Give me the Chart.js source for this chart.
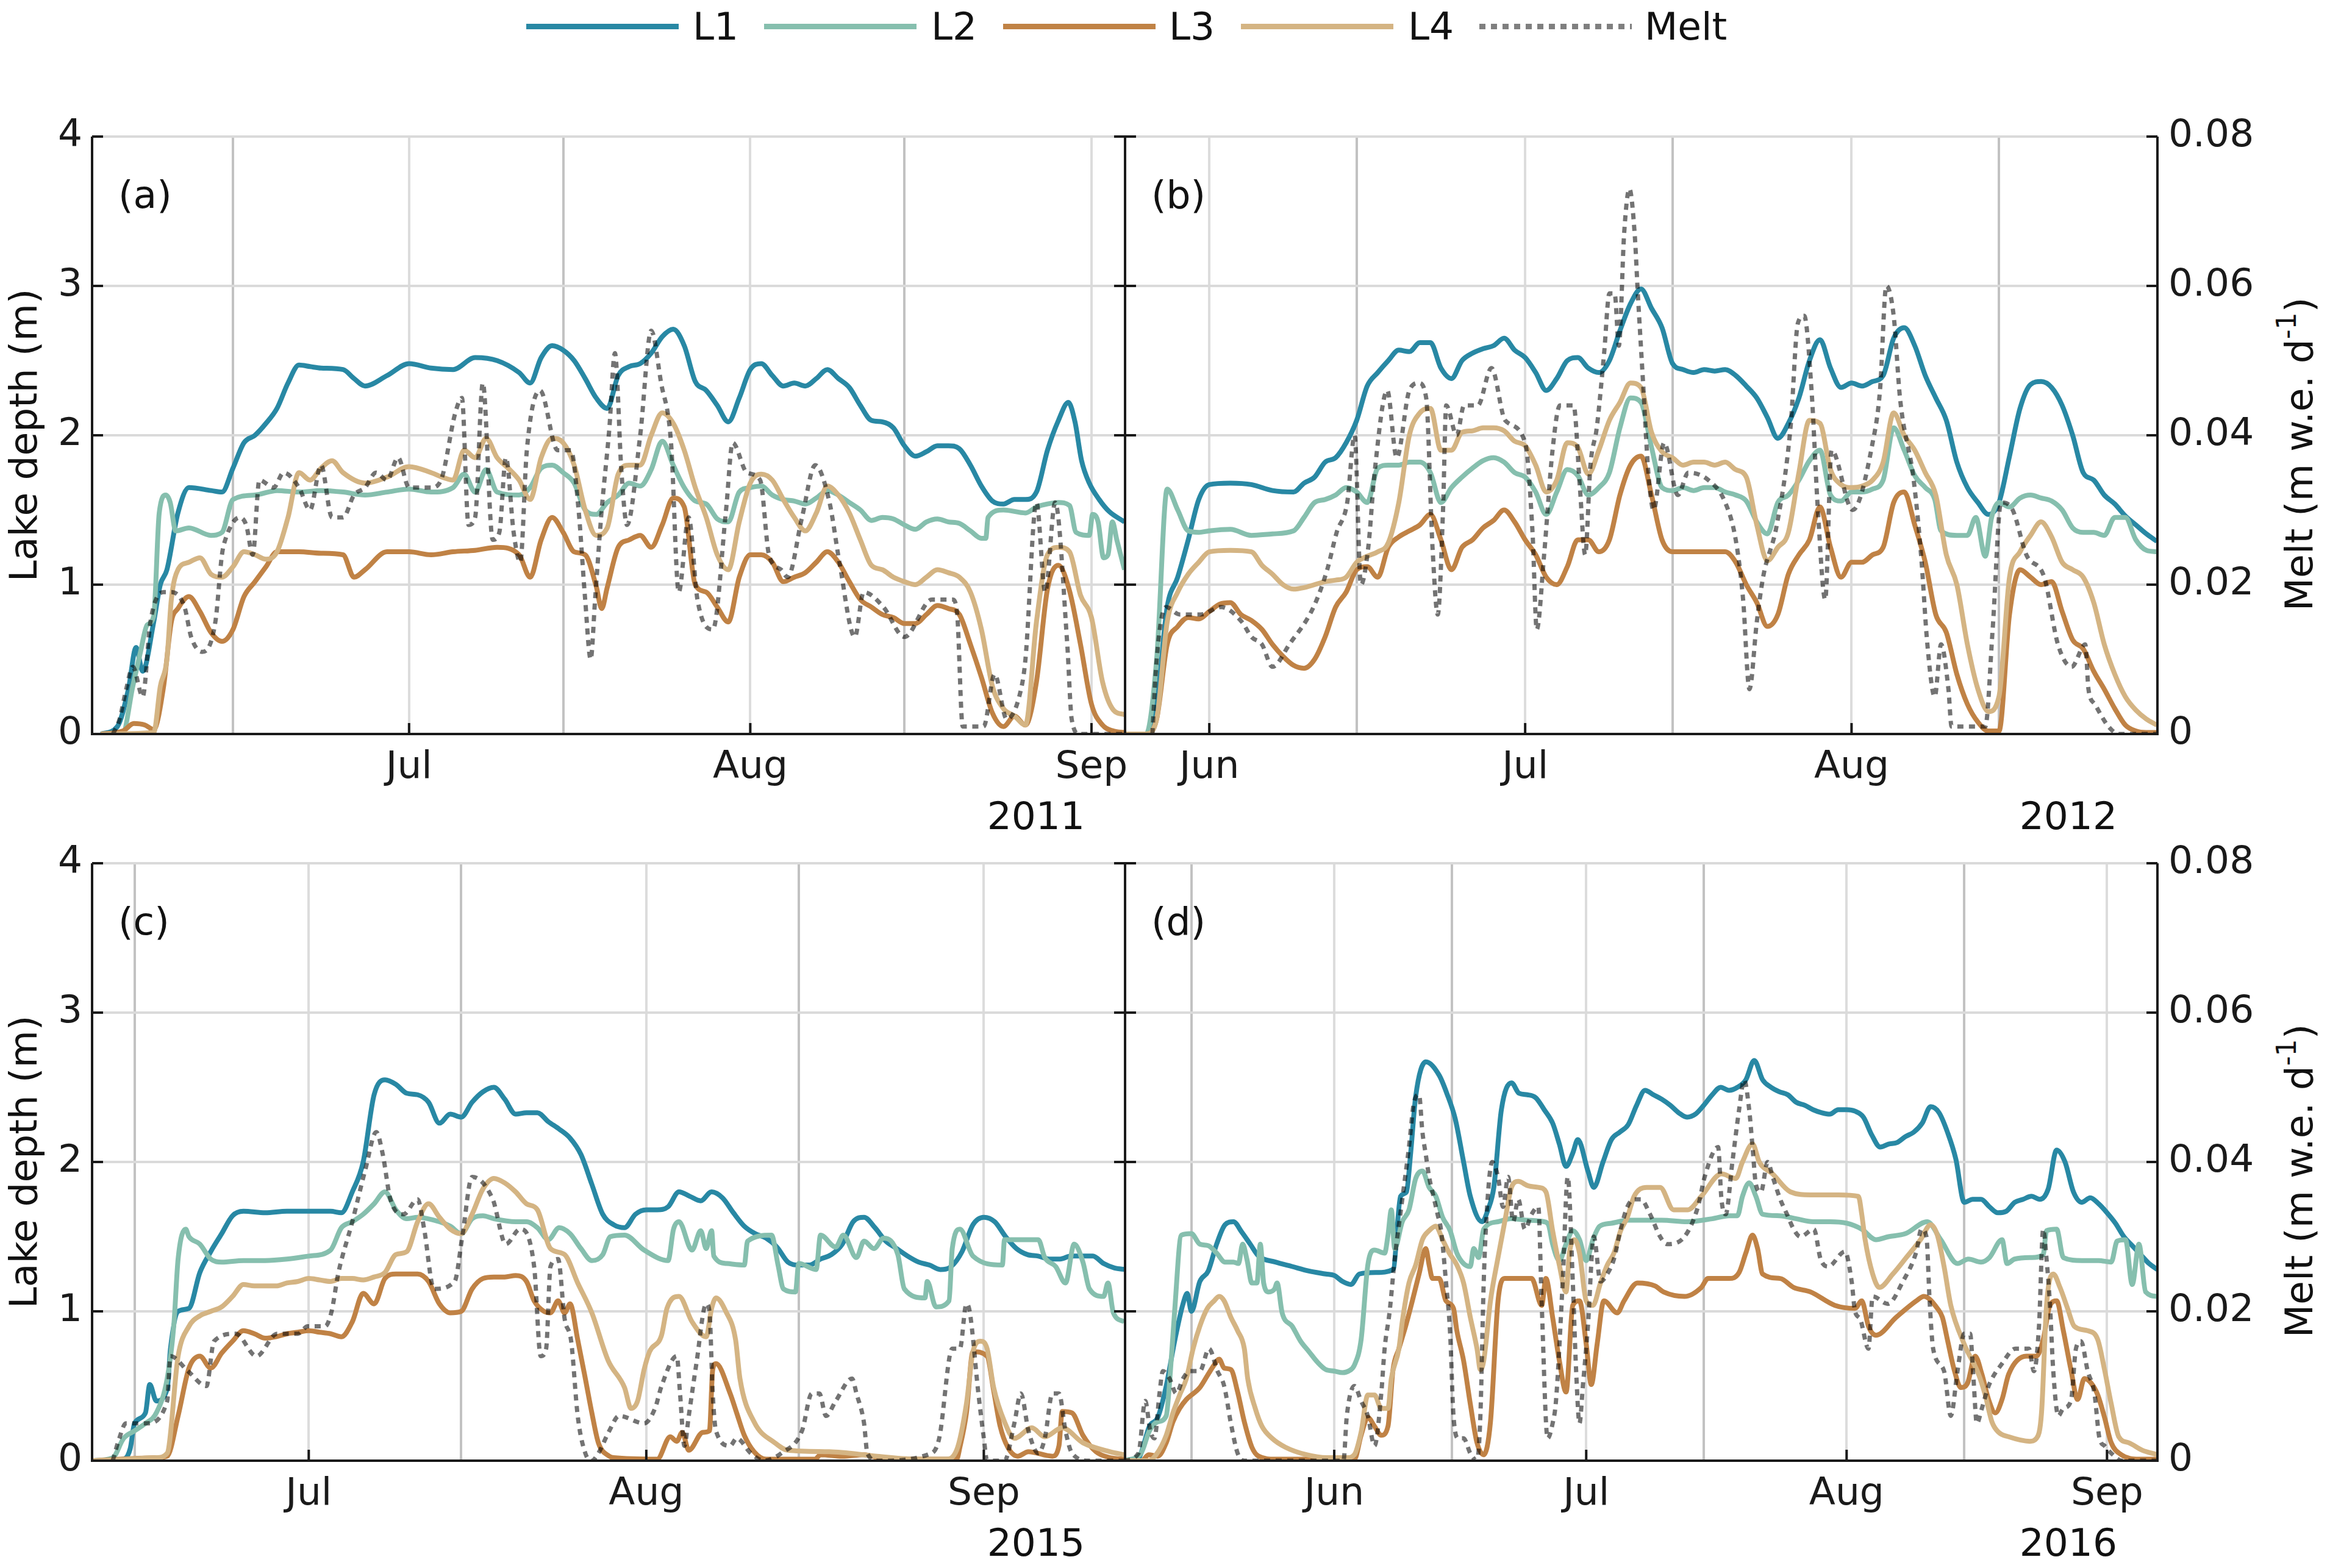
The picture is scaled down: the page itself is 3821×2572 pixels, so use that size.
<!DOCTYPE html>
<html>
<head>
<meta charset="utf-8">
<script src="https://cdn.jsdelivr.net/npm/chart.js@4.4.0/dist/chart.umd.min.js"></script>
<style>
html,body{margin:0;padding:0;background:#ffffff;}
body{width:3821px;height:2572px;position:relative;overflow:hidden;font-family:"DejaVu Sans",sans-serif;color:#111;}
canvas{position:absolute;display:block;}
.legline{position:absolute;top:39px;width:250px;height:9px;}
.legtext{position:absolute;top:12px;font-size:63px;line-height:63px;white-space:nowrap;}
.rtitle{position:absolute;font-size:63px;line-height:1;white-space:nowrap;transform:translate(-50%,-50%) rotate(-90deg);}
.rtitle sup{font-size:0.7em;vertical-align:0.6em;line-height:0;}
</style>
</head>
<body>
<div class="legline" style="left:863px;background:#2888a4"></div><div class="legtext" style="left:1136px">L1</div>
<div class="legline" style="left:1253px;background:#86bfae"></div><div class="legtext" style="left:1527px">L2</div>
<div class="legline" style="left:1645px;background:#c08245"></div><div class="legtext" style="left:1917px">L3</div>
<div class="legline" style="left:2035px;background:#d4b483"></div><div class="legtext" style="left:2309px">L4</div>
<div class="legline" style="left:2426px;background:repeating-linear-gradient(90deg,rgba(0,0,0,0.5) 0 10px,transparent 10px 19px)"></div><div class="legtext" style="left:2697px">Melt</div>
<div class="rtitle" style="left:3770px;top:745px">Melt (m w.e. d<sup>-1</sup>)</div>
<div class="rtitle" style="left:3770px;top:1937px">Melt (m w.e. d<sup>-1</sup>)</div>
<script>
// ---------------- DATA (day of year, value) ----------------
// Panel (a) 2011
const a_monthDays = [182, 213, 244];
const a_monthLabels = ['Jul', 'Aug', 'Sep'];
const a_midDays = [166, 196, 227];
const a_L1 = [[154,0],[155.5,0.05],[156.5,0.3],[157.2,0.58],[157.8,0.42],[158.8,0.75],[159.4,1.0],[160,1.1],[161,1.48],[162,1.65],[164,1.63],[165,1.62],[166,1.78],[167,1.95],[168,2.0],[169,2.08],[170,2.18],[171,2.35],[172,2.47],[173,2.46],[174,2.45],[176,2.44],[177,2.38],[178,2.33],[180,2.4],[182,2.48],[184,2.45],[186,2.44],[188,2.52],[190,2.5],[192,2.42],[193,2.35],[194,2.52],[195,2.6],[196,2.57],[197,2.5],[198,2.38],[199,2.25],[200,2.18],[201,2.4],[202,2.46],[203,2.48],[204,2.55],[205,2.66],[206,2.71],[207,2.6],[208,2.36],[209,2.3],[210,2.2],[211,2.09],[212,2.25],[213,2.44],[214,2.48],[215,2.4],[216,2.33],[217,2.35],[218,2.33],[219,2.38],[220,2.44],[221,2.38],[222,2.32],[223,2.2],[224,2.1],[225,2.09],[226,2.05],[227,1.93],[228,1.86],[229,1.89],[230,1.93],[231,1.93],[232,1.91],[233,1.8],[234,1.66],[235,1.56],[236,1.54],[237,1.57],[238,1.57],[239,1.62],[240,1.9],[241,2.1],[241.9,2.22],[242.5,2.09],[243.1,1.83],[243.8,1.68],[244.7,1.57],[245.6,1.49],[247,1.42]];
const a_L2 = [[154,0],[156,0.01],[156.9,0.32],[157.6,0.55],[158.2,0.73],[158.8,0.79],[159.3,1.48],[159.9,1.6],[160.3,1.55],[160.8,1.36],[162,1.38],[164,1.33],[165,1.35],[166,1.57],[168,1.6],[170,1.63],[172,1.62],[174,1.63],[176,1.62],[178,1.6],[180,1.62],[182,1.64],[184,1.62],[186,1.65],[187,1.74],[188,1.62],[189,1.77],[190,1.62],[192,1.6],[193,1.65],[194,1.78],[195,1.8],[196,1.75],[197,1.68],[198,1.5],[199,1.47],[200,1.55],[201,1.6],[202,1.68],[203,1.66],[204,1.77],[205,1.96],[206,1.8],[207,1.65],[208,1.56],[209,1.54],[210,1.44],[211,1.42],[212,1.62],[213,1.65],[214,1.66],[215,1.6],[216,1.57],[217,1.56],[218,1.54],[219,1.58],[220,1.63],[221,1.6],[222,1.55],[223,1.5],[224,1.43],[225,1.45],[226,1.44],[227,1.4],[228,1.37],[229,1.42],[230,1.44],[231,1.42],[232,1.41],[233,1.36],[234,1.31],[234.4,1.31],[234.6,1.45],[236,1.5],[238,1.48],[239,1.52],[240,1.54],[241,1.55],[242,1.53],[242.6,1.35],[243.8,1.33],[244.1,1.47],[244.6,1.42],[245.1,1.18],[245.5,1.2],[245.9,1.42],[246.3,1.3],[247,1.1]];
const a_L3 = [[154,0],[156,0.02],[157,0.07],[158,0.06],[158.8,0.03],[159.7,0.32],[160.4,0.75],[161,0.84],[162,0.92],[163,0.82],[164,0.68],[165,0.62],[166,0.7],[167,0.92],[168,1.02],[169,1.12],[170,1.22],[172,1.22],[174,1.21],[176,1.2],[177,1.05],[178,1.1],[180,1.22],[182,1.22],[184,1.2],[186,1.22],[188,1.23],[190,1.25],[192,1.2],[193,1.05],[194,1.3],[195,1.45],[196,1.35],[197,1.22],[198,1.2],[199,0.99],[199.5,0.84],[200,0.98],[201,1.25],[202,1.3],[203,1.33],[204,1.25],[205,1.4],[206,1.58],[207,1.52],[208,1.0],[209,0.95],[210,0.85],[211,0.75],[212,1.05],[213,1.2],[214,1.2],[215,1.15],[216,1.02],[217,1.05],[218,1.08],[219,1.15],[220,1.22],[221,1.15],[222,1.02],[223,0.9],[224,0.85],[225,0.8],[226,0.78],[227,0.74],[228,0.74],[229,0.8],[230,0.86],[231,0.84],[232,0.8],[233,0.6],[234,0.38],[235,0.14],[236,0.05],[237,0.12],[238,0.06],[239,0.35],[240,0.97],[241,1.13],[242,0.96],[243,0.6],[244,0.2],[245,0.06],[246,0.02],[247,0.01]];
const a_L4 = [[154,0],[158.8,0.01],[159.4,0.32],[160,0.5],[160.4,0.9],[161,1.1],[162,1.15],[163,1.18],[164,1.07],[165,1.05],[166,1.12],[167,1.22],[168,1.2],[169,1.17],[170,1.22],[171,1.45],[172,1.75],[173,1.7],[174,1.78],[175,1.83],[176,1.75],[178,1.68],[180,1.72],[182,1.79],[184,1.75],[185,1.72],[186,1.7],[187,1.9],[188,1.85],[189,1.98],[190,1.85],[191,1.78],[192,1.7],[193,1.57],[194,1.85],[195,1.98],[196,1.95],[197,1.8],[198,1.5],[199,1.33],[200,1.38],[201,1.74],[202,1.8],[203,1.8],[204,2.0],[205,2.15],[206,2.08],[207,1.9],[208,1.65],[209,1.45],[210,1.2],[211,1.1],[212,1.42],[213,1.68],[214,1.74],[215,1.7],[216,1.57],[217,1.45],[218,1.36],[219,1.48],[220,1.66],[221,1.6],[222,1.48],[223,1.3],[224,1.13],[225,1.1],[226,1.05],[227,1.02],[228,1.0],[229,1.05],[230,1.1],[231,1.08],[232,1.05],[233,0.95],[234,0.7],[235,0.32],[236,0.17],[237,0.12],[238,0.06],[239,0.75],[240,1.2],[241,1.25],[242,1.22],[243,0.93],[244,0.78],[245,0.35],[246,0.16],[247,0.13]];
const a_melt = [[155.1,0],[155.7,0.002],[156.3,0.006],[156.9,0.009],[157.8,0.005],[158.5,0.015],[159.7,0.019],[160.4,0.019],[161.6,0.017],[162.2,0.013],[163.2,0.011],[164.4,0.015],[165,0.024],[165.3,0.026],[166.6,0.029],[167.2,0.028],[167.8,0.024],[168.4,0.034],[169.7,0.033],[170.6,0.035],[172,0.033],[173,0.030],[174,0.036],[175,0.029],[176,0.029],[177,0.032],[178,0.033],[179,0.035],[180,0.034],[181,0.037],[182,0.033],[184,0.033],[184.9,0.034],[186.2,0.043],[186.8,0.045],[187.4,0.028],[188,0.029],[188.7,0.047],[189.6,0.026],[190.2,0.027],[190.8,0.037],[191.5,0.027],[192.1,0.023],[192.7,0.038],[193.9,0.046],[195.5,0.038],[196.7,0.038],[197.4,0.030],[198,0.018],[198.5,0.010],[198.9,0.018],[199.5,0.030],[200.2,0.041],[200.7,0.051],[201.3,0.035],[201.8,0.028],[203,0.040],[204,0.054],[204.9,0.047],[205.8,0.039],[206.5,0.019],[207.4,0.029],[208.2,0.018],[209.6,0.014],[210.8,0.030],[211.4,0.039],[212.7,0.035],[213.9,0.034],[214.7,0.024],[215.8,0.022],[216.4,0.021],[217.7,0.029],[218.9,0.036],[220.2,0.031],[221.1,0.023],[222.5,0.013],[223.3,0.019],[225.1,0.017],[227,0.013],[229.5,0.018],[231.4,0.018],[231.8,0.016],[232.3,0.001],[234.2,0.001],[235.2,0.008],[236.3,0.002],[237.6,0.006],[238,0.010],[239,0.031],[239.8,0.019],[240.7,0.031],[241.8,0.012],[242.2,0.002],[242.9,0],[247,0]];

// Panel (b) 2012
const b_monthDays = [153, 183, 214];
const b_monthLabels = ['Jun', 'Jul', 'Aug'];
const b_midDays = [167, 197, 228];
const b_L1 = [[145,0],[147,0],[148,0.2],[149,0.85],[150,1.05],[151,1.3],[152,1.57],[153,1.67],[155,1.68],[157,1.67],[159,1.63],[161,1.62],[162,1.68],[163,1.72],[164,1.82],[165,1.85],[166,1.95],[167,2.1],[168,2.33],[169,2.42],[170,2.5],[171,2.57],[172,2.56],[173,2.62],[174,2.62],[175,2.45],[176,2.38],[177,2.5],[178,2.55],[179,2.58],[180,2.6],[181,2.65],[182,2.57],[183,2.52],[184,2.42],[185,2.3],[186,2.38],[187,2.5],[188,2.52],[189,2.45],[190,2.42],[191,2.5],[192,2.7],[193,2.88],[194,2.98],[195,2.85],[196,2.72],[197,2.48],[198,2.44],[199,2.42],[200,2.44],[201,2.43],[202,2.44],[203,2.4],[204,2.33],[205,2.25],[206,2.12],[207,1.98],[208,2.08],[209,2.25],[210,2.5],[211,2.64],[212,2.45],[213,2.32],[214,2.35],[215,2.33],[216,2.36],[217,2.4],[218,2.65],[219,2.72],[220,2.6],[221,2.4],[222,2.25],[223,2.1],[224,1.82],[225,1.65],[226,1.55],[227,1.47],[228,1.55],[229,1.86],[230,2.18],[231,2.34],[232,2.36],[233,2.32],[234,2.2],[235,2.0],[236,1.75],[237,1.7],[238,1.6],[239,1.54],[240,1.46],[241,1.4],[242,1.34],[243,1.29]];
const b_L2 = [[145,0],[147,0],[148,0.5],[149,1.64],[150,1.5],[151,1.36],[152,1.35],[153,1.36],[155,1.37],[157,1.33],[159,1.34],[161,1.36],[162,1.45],[163,1.55],[164,1.57],[165,1.6],[166,1.65],[167,1.62],[168,1.55],[169,1.78],[170,1.8],[171,1.8],[172,1.82],[173,1.82],[174,1.75],[175,1.55],[176,1.65],[177,1.72],[178,1.78],[179,1.83],[180,1.85],[181,1.82],[182,1.75],[183,1.72],[184,1.62],[185,1.47],[186,1.62],[187,1.77],[188,1.73],[189,1.6],[190,1.65],[191,1.75],[192,2.05],[193,2.25],[194,2.22],[195,1.92],[196,1.65],[197,1.63],[198,1.65],[199,1.63],[200,1.65],[201,1.65],[202,1.62],[203,1.6],[204,1.56],[205,1.42],[206,1.34],[207,1.55],[208,1.6],[209,1.7],[210,1.83],[211,1.9],[212,1.6],[213,1.56],[214,1.62],[215,1.62],[216,1.64],[217,1.7],[218,2.05],[219,1.9],[220,1.73],[221,1.65],[221.9,1.57],[222.5,1.36],[224,1.33],[225,1.33],[225.8,1.45],[226.7,1.19],[227.3,1.45],[228,1.55],[229,1.52],[230,1.58],[231,1.6],[232,1.58],[233,1.56],[234,1.5],[235,1.38],[236,1.35],[237,1.35],[238,1.33],[239,1.45],[240,1.45],[241,1.3],[242,1.23],[243,1.22]];
const b_L3 = [[145,0],[147,0],[148,0.1],[149,0.6],[150,0.72],[151,0.78],[152,0.77],[153,0.82],[154,0.87],[155,0.88],[156,0.8],[157,0.76],[158,0.7],[159,0.6],[160,0.52],[161,0.46],[162,0.44],[163,0.5],[164,0.65],[165,0.85],[166,0.95],[167,1.1],[168,1.12],[169,1.05],[170,1.25],[171,1.32],[172,1.36],[173,1.4],[174,1.47],[175,1.3],[176,1.1],[177,1.25],[178,1.3],[179,1.38],[180,1.43],[181,1.5],[182,1.42],[183,1.3],[184,1.2],[185,1.05],[186,1.0],[187,1.12],[188,1.3],[189,1.3],[190,1.22],[191,1.3],[192,1.6],[193,1.8],[194,1.86],[195,1.6],[196,1.3],[197,1.22],[198,1.22],[199,1.22],[200,1.22],[201,1.22],[202,1.22],[203,1.15],[204,1.0],[205,0.88],[206,0.72],[207,0.8],[208,1.07],[209,1.2],[210,1.3],[211,1.52],[212,1.25],[213,1.05],[214,1.15],[215,1.15],[216,1.2],[217,1.25],[218,1.55],[219,1.62],[220,1.4],[221,1.15],[222,0.8],[223,0.68],[224,0.4],[225,0.2],[226,0.08],[227,0.02],[228,0.02],[229,0.8],[230,1.1],[231,1.05],[232,1.0],[233,1.02],[234,0.82],[235,0.63],[236,0.57],[237,0.42],[238,0.3],[239,0.17],[240,0.06],[241,0.02],[242,0.01],[243,0.01]];
const b_L4 = [[145,0],[147,0],[148,0.1],[149,0.75],[150,0.95],[151,1.07],[152,1.15],[153,1.22],[155,1.23],[157,1.22],[158,1.13],[159,1.07],[160,1.0],[161,0.97],[162,0.98],[163,1.0],[164,1.02],[165,1.03],[166,1.05],[167,1.15],[168,1.19],[169,1.22],[170,1.28],[171,1.55],[172,2.0],[173,2.15],[174,2.18],[175,1.9],[176,1.9],[177,2.02],[178,2.03],[179,2.05],[180,2.05],[181,2.03],[182,1.96],[183,1.93],[184,1.8],[185,1.62],[186,1.7],[187,1.95],[188,1.92],[189,1.74],[190,1.9],[191,2.1],[192,2.22],[193,2.35],[194,2.32],[195,2.02],[196,1.89],[197,1.85],[198,1.8],[199,1.82],[200,1.82],[201,1.8],[202,1.82],[203,1.77],[204,1.72],[205,1.4],[206,1.16],[207,1.25],[208,1.35],[209,1.75],[210,2.1],[211,2.08],[212,1.77],[213,1.67],[214,1.65],[215,1.66],[216,1.7],[217,1.82],[218,2.15],[219,2.0],[220,1.9],[221,1.75],[222,1.6],[223,1.2],[224,1.0],[225,0.6],[226,0.3],[227,0.15],[228,0.25],[229,1.05],[230,1.22],[231,1.33],[232,1.42],[233,1.32],[234,1.15],[235,1.1],[236,1.05],[237,0.88],[238,0.6],[239,0.4],[240,0.25],[241,0.16],[242,0.1],[243,0.06]];
const b_melt = [[147.6,0],[147.9,0.008],[148.4,0.015],[148.9,0.017],[150.2,0.016],[152.2,0.016],[154.1,0.017],[156.1,0.015],[157,0.013],[158,0.012],[159,0.009],[160.6,0.012],[162.9,0.017],[164.2,0.022],[165.1,0.027],[166.1,0.031],[166.8,0.040],[167.4,0.020],[168.1,0.025],[168.7,0.035],[169.9,0.046],[170.8,0.037],[172,0.046],[172.9,0.047],[173.6,0.045],[174.2,0.025],[174.7,0.016],[175.2,0.030],[175.5,0.044],[176.5,0.040],[177.2,0.044],[178.5,0.044],[179.8,0.049],[181.1,0.042],[183,0.039],[183.7,0.027],[184.1,0.014],[184.8,0.024],[185.6,0.038],[186.3,0.044],[187.6,0.044],[188.2,0.033],[188.7,0.024],[189.2,0.036],[189.8,0.041],[190.5,0.051],[191,0.059],[191.5,0.059],[191.9,0.052],[192.4,0.067],[192.9,0.073],[193.4,0.067],[193.7,0.059],[194.2,0.047],[194.7,0.035],[195.2,0.030],[196.2,0.039],[197.5,0.032],[198.5,0.035],[200.4,0.034],[202,0.031],[203,0.026],[203.7,0.018],[204.3,0.006],[205,0.015],[205.6,0.021],[206.9,0.028],[208.2,0.041],[208.9,0.055],[209.5,0.056],[210.2,0.046],[210.8,0.030],[211.5,0.018],[212.1,0.038],[214.1,0.030],[216,0.039],[216.7,0.046],[217.3,0.060],[218,0.056],[218.6,0.045],[219.9,0.034],[220.6,0.024],[221.2,0.012],[221.9,0.005],[222.5,0.012],[223.2,0.006],[223.5,0.001],[226.7,0.001],[227.4,0.014],[228.2,0.031],[229.3,0.030],[230.6,0.024],[232.3,0.021],[233.6,0.012],[234.9,0.009],[236.2,0.012],[236.5,0.006],[237.1,0.004],[238.4,0.001],[239.4,0],[243,0]];

// Panel (c) 2015
const c_monthDays = [182, 213, 244];
const c_monthLabels = ['Jul', 'Aug', 'Sep'];
const c_midDays = [166, 196, 227];
const c_L1 = [[162,0],[165,0.01],[165.6,0.08],[166,0.25],[167,0.32],[167.4,0.51],[168,0.4],[169,0.48],[169.3,0.75],[170,1.0],[171,1.02],[172,1.26],[173,1.4],[174,1.52],[175,1.64],[176,1.67],[178,1.66],[180,1.67],[182,1.67],[184,1.67],[185,1.66],[186,1.8],[187,2.0],[188,2.45],[189,2.55],[190,2.52],[191,2.46],[192,2.45],[193,2.4],[194,2.26],[195,2.32],[196,2.3],[197,2.4],[198,2.47],[199,2.5],[200,2.42],[201,2.32],[202,2.33],[203,2.33],[204,2.27],[205,2.22],[206,2.16],[207,2.05],[208,1.85],[209,1.65],[210,1.58],[211,1.56],[212,1.65],[213,1.68],[214,1.68],[215,1.7],[216,1.8],[217,1.77],[218,1.74],[219,1.8],[220,1.76],[221,1.66],[222,1.57],[223,1.52],[224,1.49],[225,1.43],[226,1.33],[227,1.31],[228,1.31],[229,1.35],[230,1.38],[231,1.45],[232,1.6],[233,1.63],[234,1.56],[235,1.47],[236,1.42],[237,1.37],[238,1.33],[239,1.31],[240,1.28],[241,1.3],[242,1.4],[243,1.58],[244,1.63],[245,1.6],[246,1.5],[247,1.42],[248,1.38],[249,1.37],[250,1.35],[251,1.35],[252,1.37],[253,1.37],[254,1.37],[255,1.32],[256,1.29],[257,1.28]];
const c_L2 = [[162,0],[164,0.02],[165,0.15],[166,0.2],[167,0.25],[168,0.32],[169,0.55],[169.6,0.9],[170,1.35],[170.7,1.55],[171,1.5],[172,1.45],[173,1.35],[174,1.33],[176,1.34],[178,1.34],[180,1.35],[182,1.37],[184,1.41],[185,1.56],[186,1.6],[187,1.65],[188,1.72],[189,1.8],[190,1.68],[191,1.62],[192,1.63],[194,1.6],[195,1.57],[196,1.52],[197,1.62],[198,1.64],[199,1.62],[201,1.6],[202,1.6],[203,1.56],[204,1.48],[205,1.56],[206,1.52],[207,1.42],[208,1.34],[209,1.38],[209.7,1.5],[211,1.51],[212.8,1.41],[215,1.34],[215.5,1.55],[216,1.6],[217.2,1.41],[218,1.54],[218.5,1.42],[219,1.54],[219.2,1.37],[220.4,1.32],[222,1.31],[222.3,1.47],[224.5,1.51],[225.1,1.31],[225.6,1.15],[226.7,1.13],[227,1.32],[228.6,1.28],[229,1.51],[230.4,1.43],[231.1,1.51],[232.3,1.36],[233,1.47],[233.9,1.42],[234.8,1.49],[236.1,1.38],[236.7,1.15],[238.6,1.09],[238.8,1.2],[239.6,1.03],[240.8,1.07],[241.1,1.42],[241.8,1.55],[243,1.37],[245.7,1.31],[245.9,1.48],[249,1.48],[249.6,1.36],[250.6,1.3],[251.5,1.19],[252.3,1.45],[253.1,1.33],[253.7,1.15],[255,1.1],[255.4,1.19],[255.9,0.99],[256.9,0.93]];
const c_L3 = [[162,0],[168,0.02],[169,0.03],[170,0.3],[171,0.62],[172,0.7],[173,0.62],[174,0.72],[175,0.8],[176,0.87],[177,0.85],[178,0.82],[179,0.83],[180,0.85],[181,0.86],[182,0.87],[183,0.86],[184,0.85],[185,0.83],[186,0.93],[187,1.12],[188,1.05],[189,1.22],[190,1.25],[191,1.25],[192,1.25],[193,1.2],[194,1.05],[195,0.99],[196,1.0],[197,1.15],[198,1.22],[199,1.23],[200,1.23],[201,1.24],[202,1.2],[202.7,1.07],[203.6,1.0],[204.2,0.99],[204.9,1.07],[205.5,0.99],[206,1.05],[206.7,0.81],[207.4,0.55],[208,0.32],[208.6,0.12],[209.6,0.03],[210,0.02],[214,0.01],[215.2,0.16],[215.8,0.13],[216.3,0.19],[216.9,0.07],[218.2,0.19],[218.8,0.2],[219.1,0.61],[219.4,0.65],[220.7,0.45],[221.3,0.32],[222,0.17],[222.9,0.06],[224,0.01],[228.5,0.01],[229,0.04],[231,0.03],[233,0.04],[235,0.01],[241.5,0.01],[241.8,0.09],[242.4,0.32],[243,0.73],[244.3,0.7],[244.9,0.47],[245.5,0.23],[246.2,0.09],[247.1,0.03],[248.1,0.06],[250.3,0.03],[250.9,0.1],[251.2,0.33],[252.1,0.32],[253.1,0.17],[254.3,0.06],[255.6,0.02],[257,0.01]];
const c_L4 = [[162,0],[168,0.02],[169,0.05],[170,0.7],[171,0.9],[172,0.97],[173,1.0],[174,1.03],[175,1.1],[176,1.18],[177,1.17],[178,1.17],[179,1.17],[180,1.19],[181,1.2],[182,1.22],[183,1.21],[184,1.2],[185,1.22],[186,1.22],[187,1.21],[188,1.23],[189,1.26],[190,1.38],[191,1.4],[192,1.6],[193,1.72],[194,1.63],[195,1.55],[196,1.52],[197,1.65],[198,1.82],[199,1.89],[200,1.86],[201,1.8],[202,1.72],[203,1.68],[204.2,1.42],[205.5,1.38],[206.7,1.19],[208,0.99],[209.5,0.67],[211,0.49],[211.6,0.35],[212.2,0.4],[212.8,0.61],[213.3,0.73],[214.4,0.84],[214.9,1.02],[216,1.1],[217.2,0.93],[218.5,0.83],[219,1.02],[219.4,1.09],[220.3,1.0],[221.2,0.81],[221.6,0.55],[222.9,0.26],[224.8,0.12],[226,0.07],[229.8,0.06],[234.2,0.03],[238,0.01],[240.5,0.01],[241.5,0.07],[242.4,0.38],[243,0.73],[243.7,0.8],[244.3,0.75],[244.9,0.49],[245.9,0.26],[246.8,0.15],[248.4,0.22],[249.6,0.16],[251.2,0.22],[253.1,0.12],[255.6,0.06],[256.9,0.04]];
const c_melt = [[164,0],[164.6,0.003],[165.2,0.005],[167.1,0.005],[169,0.008],[169.3,0.014],[170.9,0.012],[172.6,0.010],[173.3,0.016],[175.3,0.017],[177.2,0.014],[179.1,0.017],[181,0.017],[181.9,0.018],[183.5,0.018],[184.1,0.020],[184.7,0.025],[186,0.032],[187.2,0.039],[188.2,0.044],[188.8,0.041],[189.5,0.035],[190.7,0.033],[192,0.035],[192.6,0.031],[193.5,0.023],[195.4,0.024],[196.1,0.030],[197,0.038],[198.9,0.035],[200.1,0.029],[201.4,0.031],[202.7,0.026],[203.3,0.014],[203.8,0.015],[204.2,0.026],[204.9,0.027],[205.5,0.019],[206.1,0.016],[206.7,0.006],[207.4,0.001],[208,0],[208.6,0.001],[209.6,0.004],[210.5,0.006],[212.8,0.005],[213.8,0.007],[214.4,0.010],[215.8,0.014],[216.1,0.009],[216.5,0.002],[216.9,0.006],[217.6,0.013],[218.5,0.021],[218.8,0.020],[219.1,0.009],[219.4,0.004],[220.7,0.002],[221.3,0.003],[222.6,0.001],[223.8,0],[225.4,0.001],[227.3,0.004],[228.2,0.009],[228.9,0.009],[229.5,0.006],[230.4,0.008],[231.9,0.011],[232.3,0.009],[233,0.005],[233.3,0.001],[234.2,0],[239.2,0.001],[239.9,0.003],[241.1,0.015],[241.8,0.015],[242.4,0.021],[242.7,0.020],[243.5,0.009],[244,0.003],[244.3,0],[245.9,0],[246.8,0.005],[247.4,0.009],[248.1,0.004],[249,0.001],[249.6,0.003],[250.3,0.009],[250.9,0.009],[251.5,0.004],[252.1,0.001],[253.7,0],[257,0]];

// Panel (d) 2016
const d_monthDays = [153, 183, 214, 245];
const d_monthLabels = ['Jun', 'Jul', 'Aug', 'Sep'];
const d_midDays = [136, 167, 197, 228];
const d_L1 = [[128,0],[129.5,0],[130,0.05],[131,0.23],[132,0.29],[133,0.5],[134,0.8],[135,1.05],[135.5,1.12],[136,1.0],[137,1.2],[138,1.27],[139,1.45],[140,1.58],[141,1.6],[142,1.53],[143,1.45],[144,1.37],[146,1.33],[148,1.3],[150,1.27],[152,1.25],[153,1.24],[154,1.2],[155,1.18],[156,1.25],[158,1.26],[160,1.28],[160.9,1.77],[161.6,1.8],[162.1,2.06],[162.7,2.44],[163.9,2.67],[165.5,2.58],[166.4,2.46],[167.4,2.29],[168.4,2.0],[169.2,1.77],[170.6,1.6],[171.3,1.68],[172,1.83],[172.9,2.35],[174.1,2.53],[175,2.46],[176,2.45],[177,2.43],[178,2.35],[179,2.26],[179.8,2.12],[180.6,1.97],[181.4,2.06],[182,2.15],[183.2,1.94],[183.9,1.83],[185,2.0],[186,2.15],[187,2.2],[188,2.25],[189,2.38],[190,2.48],[191,2.45],[192,2.42],[193,2.38],[194,2.33],[195,2.3],[196,2.32],[197,2.38],[198,2.45],[199,2.5],[200,2.48],[201,2.5],[202,2.55],[203,2.68],[204,2.55],[205,2.5],[206,2.47],[207,2.45],[208,2.4],[209,2.38],[210,2.35],[211,2.33],[212,2.32],[213,2.35],[214,2.35],[215,2.34],[216,2.3],[217,2.18],[218,2.1],[219,2.12],[220,2.13],[221,2.17],[222,2.2],[223,2.26],[224,2.37],[225,2.33],[226,2.2],[227,2.02],[228,1.73],[229,1.75],[230,1.75],[231,1.7],[232,1.66],[233,1.67],[234,1.73],[235,1.75],[236,1.77],[237,1.75],[238,1.82],[239,2.08],[240,2.0],[241,1.8],[242,1.73],[243,1.76],[244,1.72],[245,1.66],[246,1.59],[247,1.5],[248,1.44],[249,1.38],[250,1.32],[251,1.28]];
const d_L2 = [[128,0],[130,0.05],[131,0.2],[132,0.26],[133,0.3],[133.5,0.6],[134,1.0],[134.8,1.51],[136,1.52],[137,1.45],[138,1.44],[139,1.39],[140,1.33],[141,1.33],[141.6,1.32],[142.1,1.45],[142.6,1.35],[143.2,1.19],[143.8,1.19],[144.2,1.45],[144.6,1.19],[145.2,1.13],[145.9,1.15],[146.2,1.19],[146.8,0.99],[148,0.9],[149,0.8],[150,0.73],[151,0.66],[152,0.61],[153,0.6],[154,0.59],[154.7,0.6],[155.4,0.64],[156.2,0.81],[157,1.31],[157.8,1.41],[159,1.39],[159.4,1.51],[159.8,1.68],[160.2,1.42],[161.1,1.6],[161.9,1.68],[162.7,1.89],[163.5,1.94],[164.3,1.83],[165.1,1.77],[165.9,1.63],[166.8,1.54],[167.6,1.39],[168.4,1.32],[169.2,1.3],[169.6,1.42],[170.2,1.36],[170.8,1.55],[172.5,1.6],[174,1.62],[176,1.61],[178,1.6],[178.5,1.58],[179,1.45],[179.8,1.34],[180.6,1.45],[181.4,1.54],[182.2,1.48],[183,1.34],[183.8,1.48],[184.6,1.57],[186,1.59],[188,1.61],[190,1.61],[192,1.61],[195,1.6],[198,1.62],[200,1.64],[201,1.64],[201.6,1.77],[202.4,1.86],[203.2,1.77],[204,1.65],[206,1.64],[208,1.62],[210,1.6],[212,1.6],[214,1.59],[215.8,1.55],[217.5,1.48],[219,1.5],[221,1.52],[223.6,1.6],[225.2,1.48],[227.2,1.32],[228.5,1.35],[230,1.33],[231,1.36],[232.5,1.48],[233.1,1.32],[234,1.35],[236,1.36],[237.4,1.38],[237.8,1.54],[239,1.55],[239.8,1.36],[242,1.34],[244,1.34],[245.5,1.33],[246.2,1.47],[247.2,1.48],[248,1.18],[248.8,1.45],[249.6,1.13],[251,1.1]];
const d_L3 = [[128,0],[130.1,0],[130.9,0.04],[132,0.03],[133,0.12],[133.8,0.26],[134.6,0.35],[135.4,0.41],[137,0.49],[137.9,0.57],[138.7,0.64],[139.3,0.68],[139.9,0.62],[140.7,0.61],[141.5,0.46],[142.3,0.26],[143.2,0.09],[144,0.03],[146,0.01],[155.4,0.01],[156.2,0.17],[157,0.29],[157.8,0.23],[158.6,0.17],[159.4,0.23],[160,0.61],[160.7,0.75],[161.5,0.9],[162.3,1.07],[163.1,1.25],[163.9,1.42],[164.3,1.31],[164.7,1.22],[165.5,1.22],[166.3,1.07],[167.2,1.02],[167.6,0.87],[168.4,0.67],[169.2,0.38],[170,0.12],[170.8,0.04],[171.6,0.26],[172.5,1.07],[173.3,1.22],[175.3,1.22],[176.5,1.22],[177.7,1.04],[178.2,1.22],[179,0.96],[179.8,0.67],[180.6,0.46],[181.4,1.04],[182.2,1.07],[183,0.78],[183.6,0.51],[184.3,0.78],[185.1,1.07],[186.7,0.99],[187.5,1.07],[189.1,1.19],[191.2,1.17],[192.2,1.13],[194.7,1.1],[196.7,1.16],[197.5,1.22],[200,1.22],[201.2,1.26],[202,1.39],[202.8,1.51],[203.4,1.42],[204,1.25],[206.1,1.22],[207.7,1.16],[209.7,1.13],[212.6,1.04],[215,1.02],[215.8,1.07],[216.6,0.9],[217.5,0.84],[219.9,0.96],[222.3,1.07],[223.2,1.1],[224.8,1.02],[225.4,0.96],[226,0.81],[226.8,0.61],[227.6,0.49],[228.4,0.52],[229.3,0.7],[230.1,0.58],[230.9,0.41],[231.7,0.32],[232.5,0.41],[233.3,0.58],[235.4,0.7],[236.6,0.7],[237.4,0.81],[238.2,1.04],[239,1.07],[239.8,0.87],[240.7,0.61],[241.5,0.41],[242.3,0.55],[243.1,0.52],[243.9,0.44],[244.7,0.29],[245.5,0.12],[246.7,0.04],[248.8,0.01],[251,0.01]];
const d_L4 = [[128,0],[130.9,0],[131.8,0.04],[133,0.17],[133.8,0.32],[134.6,0.44],[135.4,0.55],[136.2,0.75],[137,0.9],[137.9,1.02],[138.7,1.07],[139.3,1.1],[139.9,1.07],[140.7,0.96],[141.5,0.87],[142.3,0.75],[142.7,0.55],[143.6,0.35],[144.4,0.23],[145.6,0.15],[147.2,0.09],[149.7,0.04],[152.1,0.02],[154.5,0.02],[155.4,0.04],[156.2,0.19],[157,0.44],[157.8,0.44],[158.6,0.35],[159.4,0.35],[159.8,0.55],[160.7,0.75],[161.1,0.93],[161.9,1.19],[162.7,1.31],[163.5,1.48],[164.3,1.54],[165.1,1.57],[165.9,1.48],[166.7,1.39],[167.6,1.31],[168.4,1.19],[169.2,0.96],[170,0.75],[170.4,0.61],[170.8,0.67],[171.6,1.07],[172.5,1.36],[173.3,1.6],[174.1,1.83],[174.9,1.87],[176.1,1.84],[177.3,1.83],[178.2,1.8],[179,1.54],[179.8,1.31],[180.6,1.13],[181,1.39],[181.6,1.48],[182.2,1.39],[183,1.07],[183.8,1.04],[184.7,1.19],[185.5,1.31],[186.3,1.39],[187.1,1.54],[187.9,1.63],[188.7,1.77],[190.2,1.83],[191.8,1.83],[193.4,1.68],[195.1,1.68],[196.7,1.77],[199.1,1.92],[200.8,1.89],[201.6,2.0],[202.8,2.12],[203.6,2.0],[205.2,1.92],[207.3,1.8],[209.7,1.78],[213,1.78],[215.4,1.77],[215.8,1.65],[216.2,1.48],[217.1,1.25],[217.9,1.16],[219.5,1.25],[221.1,1.36],[222.8,1.48],[224,1.58],[224.8,1.51],[225.6,1.3],[226.4,1.04],[228,0.78],[229.7,0.58],[230.5,0.44],[231.3,0.26],[232.1,0.19],[233.3,0.16],[235.8,0.13],[236.6,0.15],[237.2,0.32],[237.8,1.04],[238.6,1.25],[239.4,1.16],[240.3,1.02],[241.1,0.9],[242.7,0.87],[243.9,0.81],[244.7,0.61],[245.5,0.38],[246.4,0.16],[247.6,0.12],[249.2,0.07],[251,0.04]];
const d_melt = [[128,0],[129.7,0.001],[130.5,0.008],[131.1,0.004],[131.6,0.003],[132.2,0.009],[132.6,0.012],[133.4,0.011],[134.2,0.009],[135,0.011],[135.8,0.012],[137,0.012],[138.1,0.015],[139.1,0.012],[139.9,0.010],[140.7,0.005],[141.5,0.001],[142.3,0],[154.1,0],[154.5,0.006],[155.4,0.010],[156.2,0.008],[157,0.006],[157.8,0.002],[158.6,0.009],[159,0.015],[159.6,0.020],[160.2,0.027],[161.1,0.035],[161.9,0.042],[162.5,0.048],[163.1,0.049],[163.5,0.044],[163.9,0.041],[164.3,0.038],[164.9,0.035],[165.3,0.033],[165.7,0.031],[166.3,0.024],[166.8,0.017],[167.2,0.006],[167.8,0.003],[168.4,0.003],[169.2,0.001],[170,0],[170.4,0.006],[170.8,0.024],[171.2,0.034],[171.8,0.040],[172.5,0.038],[173.1,0.034],[173.7,0.038],[174.3,0.032],[174.9,0.035],[175.7,0.031],[176.5,0.033],[177.3,0.034],[177.7,0.021],[178.4,0.003],[179,0.005],[179.4,0.008],[180.2,0.024],[180.8,0.038],[181.4,0.024],[181.8,0.012],[182.2,0.005],[182.6,0.010],[183.2,0.018],[183.9,0.030],[184.7,0.024],[185.5,0.025],[186.3,0.027],[187.1,0.031],[187.9,0.034],[188.7,0.035],[189.5,0.035],[190.6,0.033],[191.8,0.030],[192.6,0.029],[194.7,0.030],[196.3,0.034],[197.1,0.038],[198.7,0.042],[199.1,0.035],[199.6,0.033],[200.4,0.040],[201.2,0.047],[201.8,0.051],[202.4,0.047],[202.8,0.042],[203.2,0.037],[203.8,0.036],[204.6,0.040],[205.2,0.038],[206.1,0.035],[206.9,0.033],[207.7,0.031],[208.5,0.030],[210.1,0.031],[210.9,0.027],[211.8,0.026],[213.8,0.028],[214.6,0.024],[215,0.020],[215.6,0.019],[216.6,0.015],[217.1,0.022],[218.9,0.021],[220.7,0.024],[222.3,0.028],[222.9,0.031],[223.5,0.030],[223.9,0.021],[224.3,0.015],[225.6,0.012],[226.4,0.006],[227.2,0.012],[228,0.017],[228.7,0.017],[229.1,0.011],[229.5,0.005],[230.1,0.007],[230.9,0.010],[232.5,0.013],[234.1,0.015],[234.9,0.015],[235.7,0.015],[236.3,0.012],[236.9,0.018],[237.4,0.031],[237.8,0.027],[238.2,0.021],[238.6,0.012],[239.2,0.006],[239.8,0.007],[240.7,0.008],[241.3,0.015],[241.9,0.016],[242.7,0.012],[243.5,0.009],[244.1,0.003],[244.7,0.002],[245.5,0.001],[246.8,0],[251,0]];

const seriesNames = ['L1', 'L2', 'L3', 'L4', 'Melt'];
const depthTicks = [0, 1, 2, 3, 4];

// ---------------- STYLE / LAYOUT ----------------
const FONT = '"DejaVu Sans", "Liberation Sans", sans-serif';
const COLORS = {L1:'#2888a4', L2:'#86bfae', L3:'#c08245', L4:'#d4b483', Melt:'rgba(0,0,0,0.55)'};
Chart.defaults.font.family = FONT;
Chart.defaults.font.size = 63;
Chart.defaults.color = '#1a1a1a';

const decoPlugin = {
  id: 'panelDeco',
  afterDraw(chart, args, opts) {
    const ctx = chart.ctx;
    const {left, right, top, bottom} = chart.chartArea;
    const xs = chart.scales.x, ys = chart.scales.y;
    ctx.save();
    ctx.strokeStyle = '#1a1a1a';
    ctx.lineWidth = 4;
    ctx.lineCap = 'butt';
    ctx.beginPath();
    ctx.moveTo(left, top); ctx.lineTo(left, bottom); ctx.lineTo(right, bottom); ctx.lineTo(right, top);
    ctx.stroke();
    ctx.beginPath();
    depthTicks.forEach(v => {
      const py = ys.getPixelForValue(v);
      ctx.moveTo(left, py); ctx.lineTo(left + 18, py);
      ctx.moveTo(right, py); ctx.lineTo(right - 18, py);
    });
    opts.monthDays.forEach(d => {
      const px = xs.getPixelForValue(d);
      ctx.moveTo(px, bottom); ctx.lineTo(px, bottom - 18);
    });
    ctx.stroke();
    ctx.fillStyle = '#111';
    ctx.font = '63px ' + FONT;
    ctx.textBaseline = 'alphabetic';
    ctx.textAlign = 'left';
    ctx.fillText(opts.label, left + 43, top + 117);
    ctx.textAlign = 'right';
    ctx.fillText(opts.year, right - 66, bottom + 156);
    ctx.restore();
  }
};

const panelSpecs = [
  {label:'(a)', year:'2011', xmin:153.2, xmax:247.05, monthDays:a_monthDays, monthLabels:a_monthLabels, midDays:a_midDays, series:[a_L1,a_L2,a_L3,a_L4,a_melt], left:0, top:150, w:1870, h:1300, side:'left'},
  {label:'(b)', year:'2012', xmin:145.0, xmax:243.05, monthDays:b_monthDays, monthLabels:b_monthLabels, midDays:b_midDays, series:[b_L1,b_L2,b_L3,b_L4,b_melt], left:1820, top:150, w:2001, h:1300, side:'right'},
  {label:'(c)', year:'2015', xmin:162.1, xmax:256.97, monthDays:c_monthDays, monthLabels:c_monthLabels, midDays:c_midDays, series:[c_L1,c_L2,c_L3,c_L4,c_melt], left:0, top:1342, w:1870, h:1230, side:'left'},
  {label:'(d)', year:'2016', xmin:128.1, xmax:251.0, monthDays:d_monthDays, monthLabels:d_monthLabels, midDays:d_midDays, series:[d_L1,d_L2,d_L3,d_L4,d_melt], left:1820, top:1342, w:2001, h:1230, side:'right'}
];

panelSpecs.forEach(p => {
  const canvas = document.createElement('canvas');
  canvas.width = p.w; canvas.height = p.h;
  canvas.style.left = p.left + 'px'; canvas.style.top = p.top + 'px';
  canvas.style.width = p.w + 'px'; canvas.style.height = p.h + 'px';
  document.body.appendChild(canvas);
  const isLeft = p.side === 'left';
  const padBottom = p.h - 1054 - 120;
  const datasets = seriesNames.map((name, i) => ({
    label: name,
    data: p.series[i].map(pt => ({x: pt[0], y: pt[1]})),
    yAxisID: name === 'Melt' ? 'y2' : 'y',
    borderColor: COLORS[name],
    borderWidth: name === 'Melt' ? 7 : 8,
    borderDash: name === 'Melt' ? [10, 9] : [],
    borderJoinStyle: 'round',
    borderCapStyle: 'butt',
    pointRadius: 0,
    fill: false,
    cubicInterpolationMode: 'monotone',
    order: 4 - i
  }));
  new Chart(canvas, {
    type: 'line',
    data: {datasets},
    options: {
      responsive: false,
      animation: false,
      devicePixelRatio: 1,
      events: [],
      layout: {padding: {top: 74, left: 0, right: isLeft ? 25 : 0, bottom: padBottom}},
      plugins: {
        legend: {display: false},
        tooltip: {enabled: false},
        panelDeco: {label: p.label, year: p.year, monthDays: p.monthDays}
      },
      scales: {
        x: {
          type: 'linear', min: p.xmin, max: p.xmax,
          afterBuildTicks: sc => { sc.ticks = p.monthDays.concat(p.midDays).sort((u, v) => u - v).map(v => ({value: v})); },
          afterFit: sc => { sc.height = 120; },
          ticks: {
            autoSkip: false, maxRotation: 0, minRotation: 0, padding: 18,
            color: '#1a1a1a', font: {size: 63},
            callback: v => { const k = p.monthDays.indexOf(v); return k >= 0 ? p.monthLabels[k] : ''; }
          },
          grid: {
            drawTicks: false, lineWidth: 4,
            color: c => (c.tick && p.midDays.indexOf(c.tick.value) >= 0) ? '#c2c2c2' : '#dcdcdc'
          },
          border: {display: false}
        },
        y: {
          type: 'linear', position: 'left', min: 0, max: 4,
          afterFit: sc => { sc.width = isLeft ? 151 : 25; },
          ticks: {display: isLeft, stepSize: 1, padding: 16, color: '#1a1a1a', font: {size: 63}},
          title: {display: isLeft, text: 'Lake depth (m)', color: '#111', font: {size: 63}, padding: {top: 6, bottom: 0}},
          grid: {drawTicks: false, lineWidth: 4, color: '#dadada'},
          border: {display: false}
        },
        y2: {
          type: 'linear', position: 'right', min: 0, max: 0.08,
          display: !isLeft,
          afterFit: sc => { sc.width = isLeft ? 0 : 283; },
          ticks: {stepSize: 0.02, padding: 18, color: '#1a1a1a', font: {size: 63},
                  callback: v => (Math.abs(v) < 1e-9 ? '0' : v.toFixed(2))},
          grid: {display: false, drawTicks: false},
          border: {display: false}
        }
      }
    },
    plugins: [decoPlugin]
  });
});
</script>
</body>
</html>
